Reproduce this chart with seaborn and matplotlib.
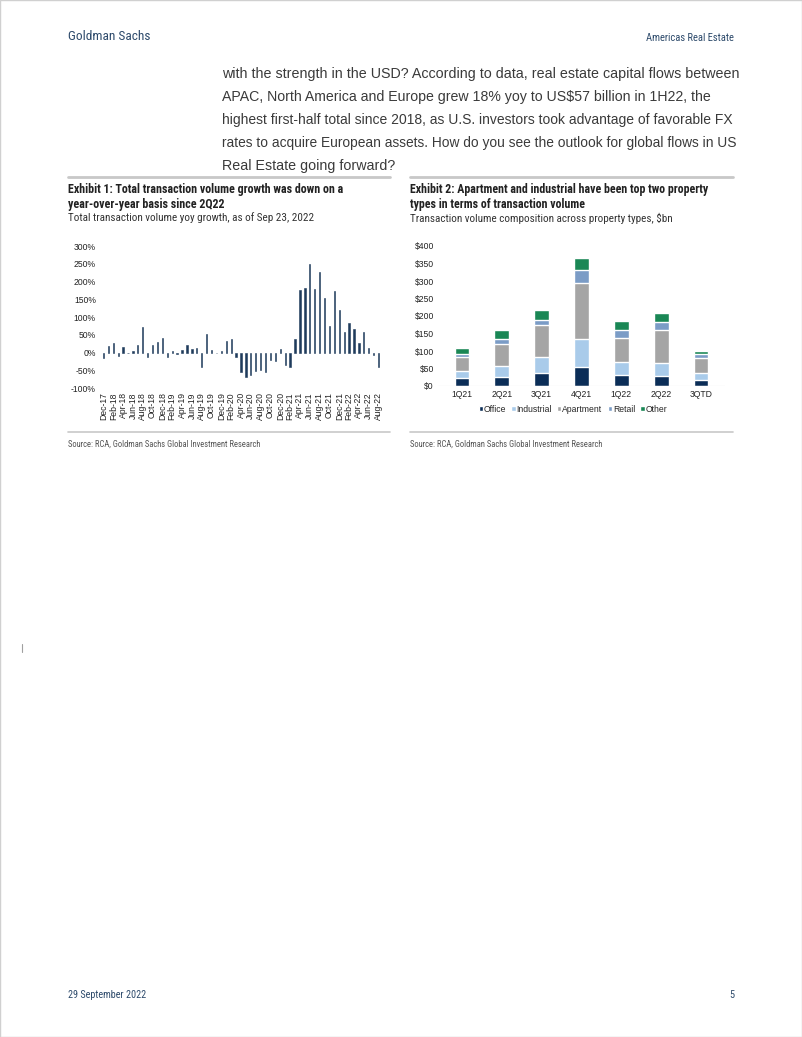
import numpy as np
import pandas as pd
import seaborn as sns
import matplotlib
matplotlib.use('Agg')
import matplotlib.pyplot as plt
from matplotlib import font_manager
from matplotlib.patches import Patch, Rectangle

# --- Exhibit 1 data: yoy growth (%) ---
months = pd.date_range('2017-12-01', '2022-08-01', freq='MS').strftime('%b-%y').tolist()
yoy_growth = [-16, 17, 27, -10, 15, -2, 3, 21, 72, -12, 22, 29, 41,
              -12, 5, -5, 8, 20, 11, 12, -40, 53, 8, 0, 4,
              31, 38, -14, -55, -68, -63, -51, -49, -56, -21, -23, 11,
              -35, -42, 39, 175, 182, 250, 179, 227, 154, 74, 174, 119,
              58, 83, 66, 26, 57, 13, -7, -42]

# --- Exhibit 2 data: transaction volume by property type ($bn) ---
quarters = ['1Q21', '2Q21', '3Q21', '4Q21', '1Q22', '2Q22', '3QTD']
office = [22, 27, 38, 55, 32, 28, 16]
industrial = [22, 31, 45, 79, 38, 39, 21]
apartment = [40, 61, 90, 161, 68, 92, 44]
retail = [8, 15, 17, 37, 23, 25, 11]
other = [17, 26, 27, 33, 24, 25, 9]

W, H = 802, 1037
NAVY = '#1f3b5c'
GS_BLUE = '#2d4a6b'
TEXT = '#3a3a3a'

sns.set_theme(style='white')
plt.rcParams['font.family'] = ['Liberation Sans', 'DejaVu Sans']

# pick a condensed face if one is installed (GS uses a narrow font for headings)
installed = {f.name for f in font_manager.fontManager.ttflist}
NARROW = ['Liberation Sans', 'DejaVu Sans']
for cand in ['Liberation Sans Narrow', 'Roboto Condensed', 'Open Sans Condensed',
             'Arial Narrow', 'DejaVu Sans Condensed']:
    if cand in installed:
        NARROW = [cand, 'DejaVu Sans']
        break

fig = plt.figure(figsize=(W / 100, H / 100), dpi=100)
renderer = fig.canvas.get_renderer()


def fx(x):
    return x / W


def fy(y):
    return 1 - y / H


def put(x, y, s, width=None, size=8, **kw):
    # width: target pixel width, font size is scaled to it
    t = fig.text(fx(x), fy(y), s, fontsize=size, **kw)
    if width:
        w = t.get_window_extent(renderer).width
        t.set_fontsize(size * width / w)
    return t


def hline(x0, x1, y, color='#c8c8c8', lw=1.5):
    fig.add_artist(plt.Line2D([fx(x0), fx(x1)], [fy(y), fy(y)], color=color, lw=lw))


# page border
fig.add_artist(Rectangle((0, 0), 1, 1, transform=fig.transFigure, fill=False,
                         edgecolor='#d0d0d0', lw=1))

# header / footer
put(68, 36, 'Goldman Sachs', width=82, size=11, color=GS_BLUE, family=NARROW, va='center')
put(734, 38, 'Americas Real Estate', width=88, size=8, color=GS_BLUE, family=NARROW,
    va='center', ha='right')
put(68, 995, '29 September 2022', width=79, size=8, color=GS_BLUE, family=NARROW, va='center')
put(734, 995, '5', size=7.5, color=GS_BLUE, family=NARROW, va='center', ha='right')
fig.add_artist(plt.Line2D([fx(22), fx(22)], [fy(644), fy(652)], color='#a0a0a0', lw=0.8))

# body text, each line fitted to its width in the reference
body = ['with the strength in the USD? According to data, real estate capital flows between',
        'APAC, North America and Europe grew 18% yoy to US$57 billion in 1H22, the',
        'highest first-half total since 2018, as U.S. investors took advantage of favorable FX',
        'rates to acquire European assets. How do you see the outlook for global flows in US',
        'Real Estate going forward?']
body_w = [514, 491, 511, 514, 173]
for i, (line, bw) in enumerate(zip(body, body_w)):
    put(222, 74 + i * 23, line, width=bw, size=10.3, color=TEXT, va='center')

# exhibit titles
exhibits = [
    (68, 390, 'Exhibit 1: Total transaction volume growth was down on a', 276,
     'year-over-year basis since 2Q22',
     'Total transaction volume yoy growth, as of Sep 23, 2022', 245),
    (410, 733, 'Exhibit 2: Apartment and industrial have been top two property', 297,
     'types in terms of transaction volume',
     'Transaction volume composition across property types, $bn', 262)]
for x0, x1, t1, w1, t2, sub, ws in exhibits:
    hline(x0, x1, 177, lw=2)
    tt = put(x0, 190, t1, width=w1, size=8.6, weight='bold', color='#222222',
             family=NARROW, va='center')
    put(x0, 204.5, t2, size=tt.get_fontsize(), weight='bold', color='#222222',
        family=NARROW, va='center')
    put(x0, 218, sub, width=ws, size=8.6, color='#333333', family=NARROW, va='center')
    hline(x0, x1, 432, lw=1.2)
    put(x0, 444, 'Source: RCA, Goldman Sachs Global Investment Research', width=194,
        size=6.3, color='#555555', family=NARROW, va='center')

# --- Exhibit 1 chart ---
ax1 = fig.add_axes([fx(100), fy(388), fx(382) - fx(100), fy(246) - fy(388)])
df1 = pd.DataFrame({'month': months, 'growth': yoy_growth})
sns.barplot(data=df1, x='month', y='growth', color=NAVY, width=0.26,
            saturation=1, edgecolor=NAVY, linewidth=0.4, ax=ax1)
ax1.set_ylim(-100, 300)
ax1.set_xlim(-0.7, len(months) - 0.3)
ax1.set_yticks(np.arange(-100, 301, 50))
ax1.set_yticklabels([f'{v}%' for v in range(-100, 301, 50)], fontsize=6.2, color='#222222')
ax1.set_xticks(range(0, len(months), 2))
ax1.set_xticklabels(months[::2], rotation=90, fontsize=6.2, color='#222222')
ax1.tick_params(axis='both', length=0, pad=3)
ax1.set_xlabel('')
ax1.set_ylabel('')
for s in ax1.spines.values():
    s.set_visible(False)

# --- Exhibit 2 chart (stacked via cumulative totals, drawn back to front) ---
ax2 = fig.add_axes([fx(438), fy(386), fx(725) - fx(438), fy(246) - fy(386)])
series = [('Office', office, '#0b2d57'), ('Industrial', industrial, '#a9cbea'),
          ('Apartment', apartment, '#a5a5a5'), ('Retail', retail, '#7b9cc6'),
          ('Other', other, '#1a8755')]
cum = np.cumsum([s[1] for s in series], axis=0)
for (name, vals, col), tops in reversed(list(zip(series, cum))):
    d = pd.DataFrame({'quarter': quarters, 'value': tops})
    sns.barplot(data=d, x='quarter', y='value', color=col, width=0.37,
                saturation=1, ax=ax2)
ax2.set_ylim(0, 400)
ax2.set_xlim(-0.6, len(quarters) - 0.4)
ax2.set_yticks(np.arange(0, 401, 50))
ax2.set_yticklabels([f'${v}' for v in range(0, 401, 50)], fontsize=6.2, color='#222222')
ax2.tick_params(axis='both', length=0, pad=3, labelsize=6.2, labelcolor='#222222')
ax2.set_xlabel('')
ax2.set_ylabel('')
for s in ax2.spines.values():
    s.set_visible(False)
ax2.axhline(0, color='#d0d0d0', lw=0.8)
handles = [Patch(facecolor=c, label=n) for n, _, c in series]
ax2.legend(handles=handles, loc='upper center', bbox_to_anchor=(0.47, -0.08), ncol=5,
           frameon=False, fontsize=6.2, handlelength=0.5, handleheight=0.5,
           handletextpad=0.1, columnspacing=0.6)

fig.savefig('out.png', dpi=100)
